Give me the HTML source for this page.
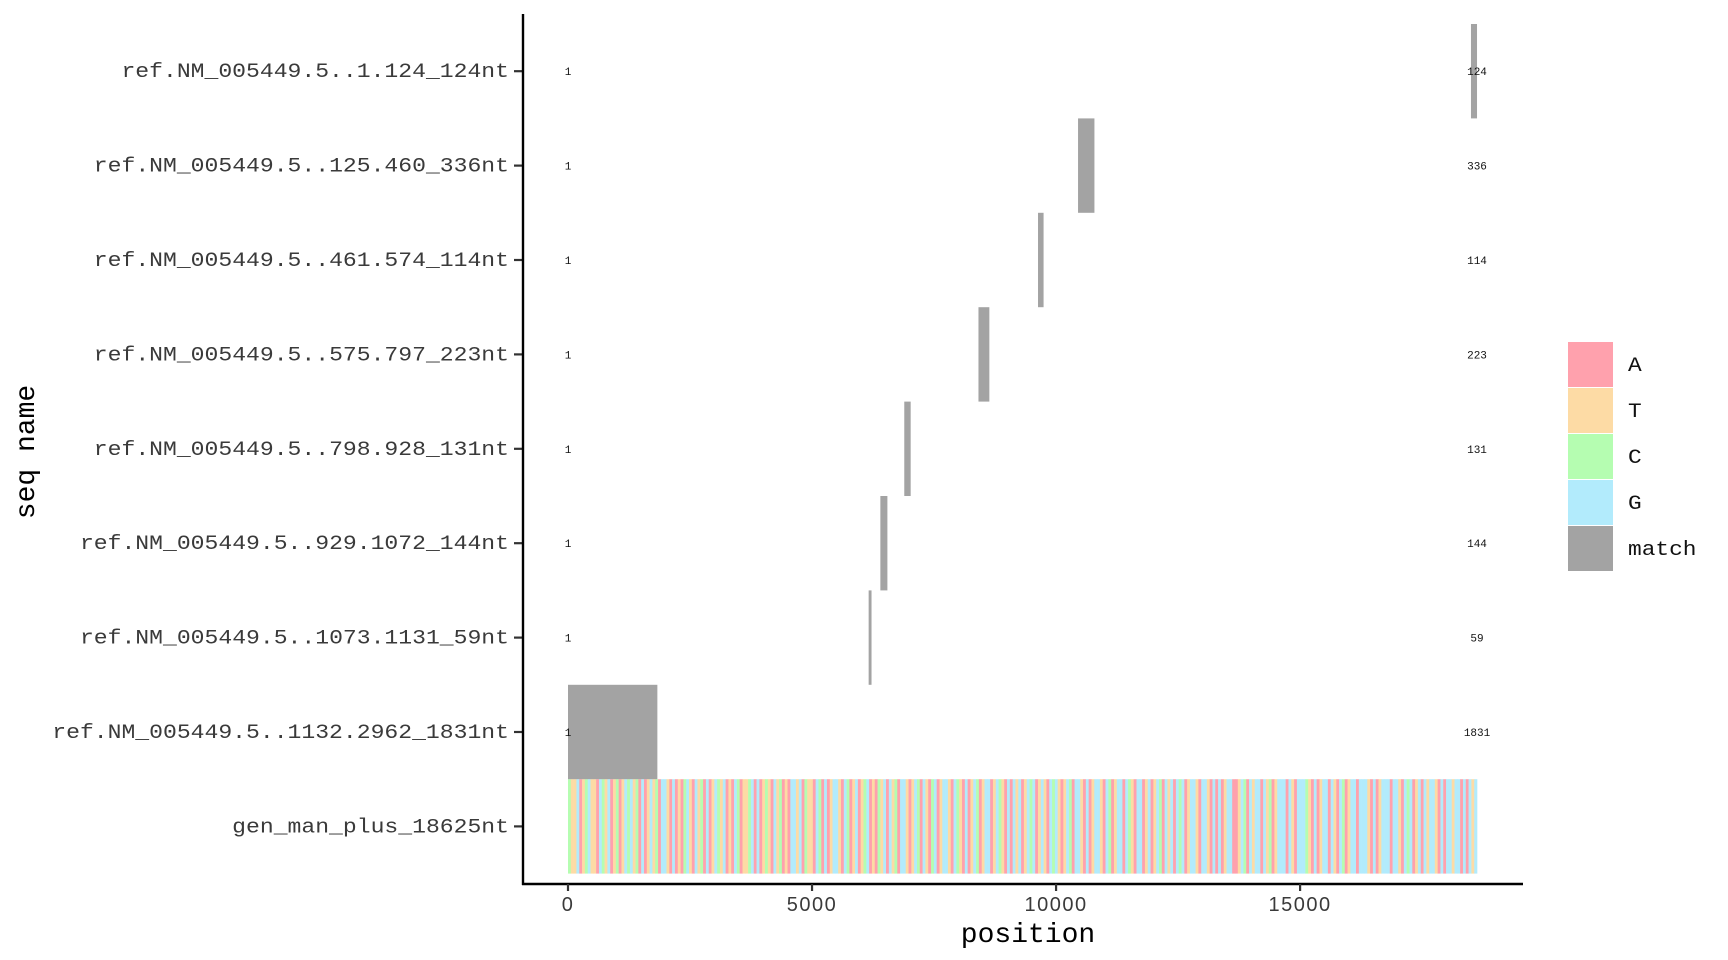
<!DOCTYPE html>
<html><head><meta charset="utf-8"><style>
html,body{margin:0;padding:0;background:#fff;}
svg{display:block;}
</style></head><body>
<svg id="chart" width="1728" height="960" xmlns="http://www.w3.org/2000/svg">
<g id="plot"></g>
</svg>
<script>
const seqNames = ["ref.NM_005449.5..1.124_124nt","ref.NM_005449.5..125.460_336nt","ref.NM_005449.5..461.574_114nt","ref.NM_005449.5..575.797_223nt","ref.NM_005449.5..798.928_131nt","ref.NM_005449.5..929.1072_144nt","ref.NM_005449.5..1073.1131_59nt","ref.NM_005449.5..1132.2962_1831nt","gen_man_plus_18625nt"];
const matchStarts = [18501,10450,9630,8410,6890,6400,6160,0];
const matchLengths = [124,336,114,223,131,144,59,1831];
const genomeLength = 18625;
const xTicks = [0,5000,10000,15000];
const legendLabels = ["A","T","C","G","match"];
const baseBins = "CTTGATCGTTAGCTGATCATGCGTCAGATGTCAGGTAGATACGTAGTCAGATGCTGATAGCATTCGAGATCTAGTCATAGGTGACTTAGCAGATGGTAGCATGATCGATACTGAGTCAGGTATGCAGTACGATGGTAGCTAGATGCATGGATGCTAGAGTGATGCGATGTAGCGTATGCAGGTAGATGGTAGCATGGAGCTAGGATGATGCAGTGAGCGATGGTAGGTAGAGATGGAATGCAGTGGAGTCATGGGAGTAGGGCTAGATGGAGTAGCATGGAGGGTAGATGGGAGGTAGCGATGAGTGGTAGAGGTGGAGAGTG";
const colors = {A:"#ffa1ad",T:"#fddba5",C:"#b5fdb1",G:"#b2ebfc",match:"#a3a3a3"};

const NS="http://www.w3.org/2000/svg";
const g=document.getElementById('plot');
const X0=568, XS=(1300.1-568)/15000;
const xs=v=>X0+v*XS;
const rowTop=24, rowH=94.4;
const yc=i=>rowTop+rowH/2+i*rowH;
function mk(t,a,parent){const e=document.createElementNS(NS,t);for(const k in a)e.setAttribute(k,a[k]);(parent||g).appendChild(e);return e;}

const binW=genomeLength/baseBins.length;
for(let i=0;i<baseBins.length;i++){
  const b=baseBins[i];
  const r=mk('rect',{x:xs(i*binW),y:yc(8)-rowH/2,width:xs((i+1)*binW)-xs(i*binW)+0.3,height:rowH,fill:colors[b]});
  
  
}
for(let i=0;i<matchStarts.length;i++){
  const r=mk('rect',{x:xs(matchStarts[i]),y:yc(i)-rowH/2,width:Math.max(matchLengths[i]*XS,2.5),height:rowH,fill:colors.match});
  
  
  const s=mk('text',{x:xs(0),y:yc(i)+4,'font-family':'Liberation Mono, monospace','font-size':11,'text-anchor':'middle',fill:'#111'});
  s.textContent='1';
  
  
  const e=mk('text',{x:xs(genomeLength),y:yc(i)+4,'font-family':'Liberation Mono, monospace','font-size':11,'text-anchor':'middle',fill:'#111'});
  e.textContent=String(matchLengths[i]);
  
  
}
for(let i=0;i<seqNames.length;i++){
  const t=mk('text',{x:509,y:yc(i)+6,'font-family':'Liberation Mono, monospace','font-size':20,'text-anchor':'end',fill:'#3a3a3a',textLength:seqNames[i].length*13.84,lengthAdjust:'spacingAndGlyphs'});
  t.textContent=seqNames[i];
  
  
  const k=mk('line',{x1:514,x2:523,y1:yc(i),y2:yc(i),stroke:'#333','stroke-width':2.2});
  
  
}
const ya=mk('line',{x1:523,x2:523,y1:14,y2:885,stroke:'#000','stroke-width':2.4});


const xa=mk('line',{x1:522,x2:1523,y1:884,y2:884,stroke:'#000','stroke-width':2.4});


for(const v of xTicks){
  const k=mk('line',{x1:xs(v),x2:xs(v),y1:884,y2:891,stroke:'#333','stroke-width':2.2});
  
  
  const t=mk('text',{x:xs(v),y:911,'font-family':'Liberation Sans, sans-serif','font-size':20,'text-anchor':'middle',fill:'#3a3a3a','letter-spacing':1.5});
  t.textContent=String(v);
  
  
}
const xt=mk('text',{x:1028,y:942,'font-family':'Liberation Mono, monospace','font-size':28,'text-anchor':'middle',fill:'#000'});
xt.textContent='position';


const yt=mk('text',{x:0,y:0,'font-family':'Liberation Mono, monospace','font-size':28,'text-anchor':'middle',fill:'#000',transform:'translate(34,452) rotate(-90)'});
yt.textContent='seq name';


for(let i=0;i<legendLabels.length;i++){
  const L=legendLabels[i];
  const r=mk('rect',{x:1568,y:342+i*46,width:45,height:45,fill:colors[L]});
  
  
  const t=mk('text',{x:1628,y:342+i*46+29,'font-family':'Liberation Mono, monospace','font-size':20,fill:'#111',textLength:L.length*13.7,lengthAdjust:'spacingAndGlyphs'});
  t.textContent=L;
  
  
}
</script>
</body></html>
